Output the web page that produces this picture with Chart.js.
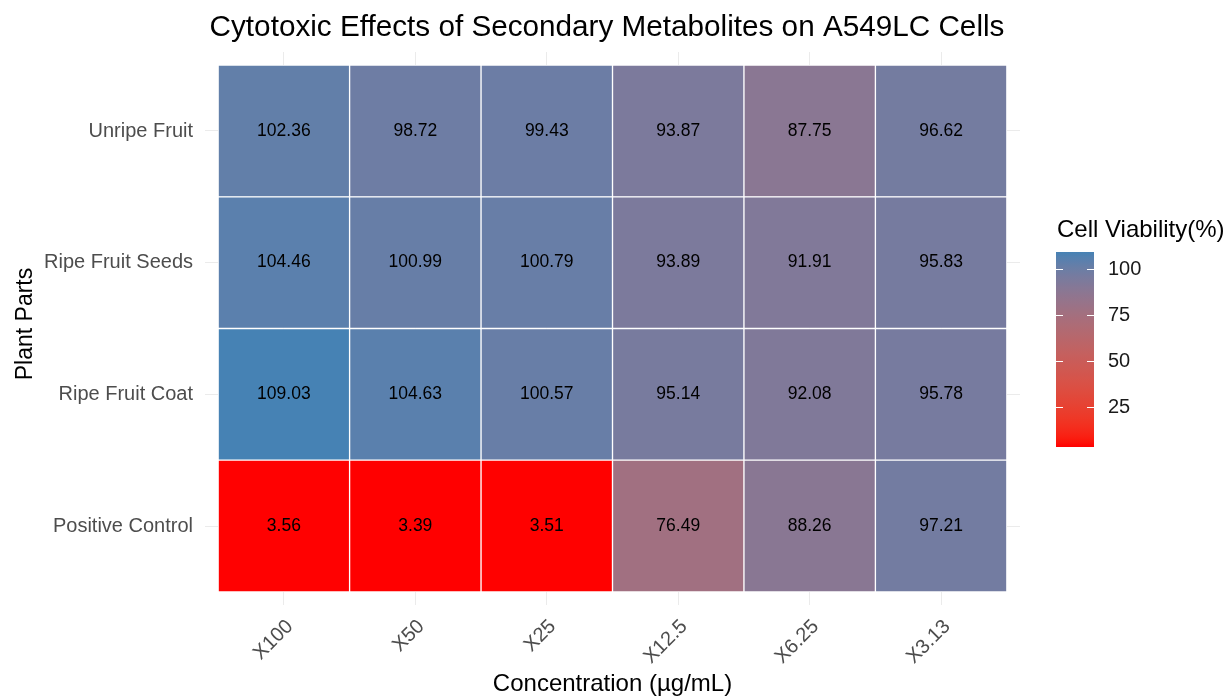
<!DOCTYPE html>
<html>
<head>
<meta charset="utf-8">
<script src="https://cdn.jsdelivr.net/npm/chart.js@4.4.0/dist/chart.umd.min.js"></script>
<style>
  html, body { margin: 0; padding: 0; background: #ffffff; }
  canvas { display: block; }
</style>
</head>
<body>
<canvas id="heatmap" width="1226" height="698"></canvas>
<script>
// columns (left to right) and rows (bottom to top)
const concentrations = ['X100', 'X50', 'X25', 'X12.5', 'X6.25', 'X3.13'];
const plantParts = ['Positive Control', 'Ripe Fruit Coat', 'Ripe Fruit Seeds', 'Unripe Fruit'];

// cell viability (%) per plant part, one value per concentration
const positiveControl = [3.56, 3.39, 3.51, 76.49, 88.26, 97.21];
const ripeFruitCoat   = [109.03, 104.63, 100.57, 95.14, 92.08, 95.78];
const ripeFruitSeeds  = [104.46, 100.99, 100.79, 93.89, 91.91, 95.83];
const unripeFruit     = [102.36, 98.72, 99.43, 93.87, 87.75, 96.62];

const legendTicks = [25, 50, 75, 100];

const rows = [positiveControl, ripeFruitCoat, ripeFruitSeeds, unripeFruit];
const allValues = rows.flat();
const vMin = Math.min(...allValues);
const vMax = Math.max(...allValues);

const FONT = "'Liberation Sans', Arial, sans-serif";

// --- red -> steelblue gradient, interpolated in CIELAB like ggplot ---
function toLinear(c) { c /= 255; return c <= 0.04045 ? c / 12.92 : Math.pow((c + 0.055) / 1.055, 2.4); }
function toSrgb(c) { c = c <= 0.0031308 ? 12.92 * c : 1.055 * Math.pow(c, 1 / 2.4) - 0.055; return Math.round(Math.min(1, Math.max(0, c)) * 255); }
const WHITE = [0.95047, 1.0, 1.08883];
function rgbToLab(rgb) {
    const [r, g, b] = rgb.map(toLinear);
    const xyz = [
        0.4124564 * r + 0.3575761 * g + 0.1804375 * b,
        0.2126729 * r + 0.7151522 * g + 0.0721750 * b,
        0.0193339 * r + 0.1191920 * g + 0.9503041 * b
    ];
    const f = xyz.map((v, i) => {
        const t = v / WHITE[i];
        return t > 0.008856 ? Math.cbrt(t) : (7.787 * t + 16 / 116);
    });
    return [116 * f[1] - 16, 500 * (f[0] - f[1]), 200 * (f[1] - f[2])];
}
function labToRgb(lab) {
    const fy = (lab[0] + 16) / 116;
    const fx = fy + lab[1] / 500;
    const fz = fy - lab[2] / 200;
    const inv = t => (t * t * t > 0.008856 ? t * t * t : (t - 16 / 116) / 7.787);
    const X = inv(fx) * WHITE[0], Y = inv(fy) * WHITE[1], Z = inv(fz) * WHITE[2];
    const r = 3.2404542 * X - 1.5371385 * Y - 0.4985314 * Z;
    const g = -0.9692660 * X + 1.8760108 * Y + 0.0415560 * Z;
    const b = 0.0556434 * X - 0.2040259 * Y + 1.0572252 * Z;
    return [toSrgb(r), toSrgb(g), toSrgb(b)];
}
const lowLab = rgbToLab([255, 0, 0]);
const highLab = rgbToLab([70, 130, 180]);
function fillFor(v) {
    const t = (v - vMin) / (vMax - vMin);
    const lab = lowLab.map((l, i) => l + (highLab[i] - l) * t);
    const [r, g, b] = labToRgb(lab);
    return `rgb(${r},${g},${b})`;
}

// numbers written in each tile
const cellLabels = {
    id: 'cellLabels',
    afterDatasetsDraw(chart) {
        const ctx = chart.ctx;
        ctx.save();
        ctx.font = `17.5px ${FONT}`;
        ctx.fillStyle = '#000000';
        ctx.textAlign = 'center';
        ctx.textBaseline = 'middle';
        chart.data.datasets.forEach((ds, i) => {
            chart.getDatasetMeta(i).data.forEach((bar, j) => {
                const p = bar.getCenterPoint();
                ctx.fillText(rows[i][j].toFixed(2), p.x, p.y);
            });
        });
        ctx.restore();
    }
};

// titles and colour bar legend
const decorations = {
    id: 'decorations',
    afterDraw(chart) {
        const ctx = chart.ctx;
        const area = chart.chartArea;
        ctx.save();
        ctx.fillStyle = '#000000';
        ctx.textAlign = 'center';
        ctx.textBaseline = 'alphabetic';

        ctx.font = `29.7px ${FONT}`;
        ctx.fillText('Cytotoxic Effects of Secondary Metabolites on A549LC Cells', 607, 36);

        ctx.font = `24px ${FONT}`;
        ctx.fillText('Concentration (\u00b5g/mL)', (area.left + area.right) / 2, 691);

        ctx.save();
        ctx.font = `23px ${FONT}`;
        ctx.translate(32, 324);
        ctx.rotate(-Math.PI / 2);
        ctx.fillText('Plant Parts', 0, 0);
        ctx.restore();

        // colour bar
        const bx = 1056, bw = 38, top = 252, bottom = 447;
        const grad = ctx.createLinearGradient(0, bottom, 0, top);
        for (let k = 0; k <= 40; k++) {
            grad.addColorStop(k / 40, fillFor(vMin + (vMax - vMin) * k / 40));
        }
        ctx.fillStyle = grad;
        ctx.fillRect(bx, top, bw, bottom - top);

        ctx.textAlign = 'left';
        ctx.font = `24px ${FONT}`;
        ctx.fillStyle = '#000000';
        ctx.fillText('Cell Viability(%)', 1057, 237);

        ctx.font = `20px ${FONT}`;
        ctx.textBaseline = 'middle';
        ctx.strokeStyle = '#ffffff';
        ctx.lineWidth = 1;
        legendTicks.forEach(t => {
            const y = Math.round(bottom - (t - vMin) / (vMax - vMin) * (bottom - top)) + 0.5;
            ctx.beginPath();
            ctx.moveTo(bx, y); ctx.lineTo(bx + 7, y);
            ctx.moveTo(bx + bw - 7, y); ctx.lineTo(bx + bw, y);
            ctx.stroke();
            ctx.fillStyle = '#1a1a1a';
            ctx.fillText(String(t), 1108, y);
        });
        ctx.restore();
    }
};

new Chart(document.getElementById('heatmap'), {
    type: 'bar',
    data: {
        datasets: rows.map((vals, r) => ({
            label: plantParts[r],
            data: vals.map((v, c) => ({ x: c + 1, y: [r + 0.5, r + 1.5] })),
            backgroundColor: vals.map(fillFor),
            borderColor: '#ffffff',
            borderWidth: 1,
            borderSkipped: false,
            barPercentage: 1,
            categoryPercentage: 1,
            grouped: false
        }))
    },
    options: {
        responsive: false,
        animation: false,
        devicePixelRatio: 1,
        layout: { padding: { left: 0, top: 52, right: 206, bottom: 0 } },
        plugins: {
            legend: { display: false },
            tooltip: { enabled: false }
        },
        scales: {
            x: {
                type: 'linear',
                min: 0.4,
                max: 6.6,
                offset: false,
                afterBuildTicks: s => { s.ticks = concentrations.map((_, i) => ({ value: i + 1 })); },
                afterFit: s => { s.height = 93; },
                grid: { color: '#ebebeb', drawTicks: false, offset: false },
                border: { display: false },
                ticks: {
                    autoSkip: false,
                    minRotation: 45,
                    maxRotation: 45,
                    padding: 10,
                    labelOffset: 6,
                    color: '#4d4d4d',
                    font: { family: FONT, size: 20 },
                    callback: v => concentrations[v - 1]
                }
            },
            y: {
                type: 'linear',
                min: 0.4,
                max: 4.6,
                afterBuildTicks: s => { s.ticks = plantParts.map((_, i) => ({ value: i + 1 })); },
                afterFit: s => { s.width = 205; },
                grid: { color: '#ebebeb', drawTicks: false },
                border: { display: false },
                ticks: {
                    padding: 12,
                    color: '#4d4d4d',
                    font: { family: FONT, size: 20 },
                    callback: v => plantParts[v - 1]
                }
            }
        }
    },
    plugins: [cellLabels, decorations]
});
</script>
</body>
</html>
